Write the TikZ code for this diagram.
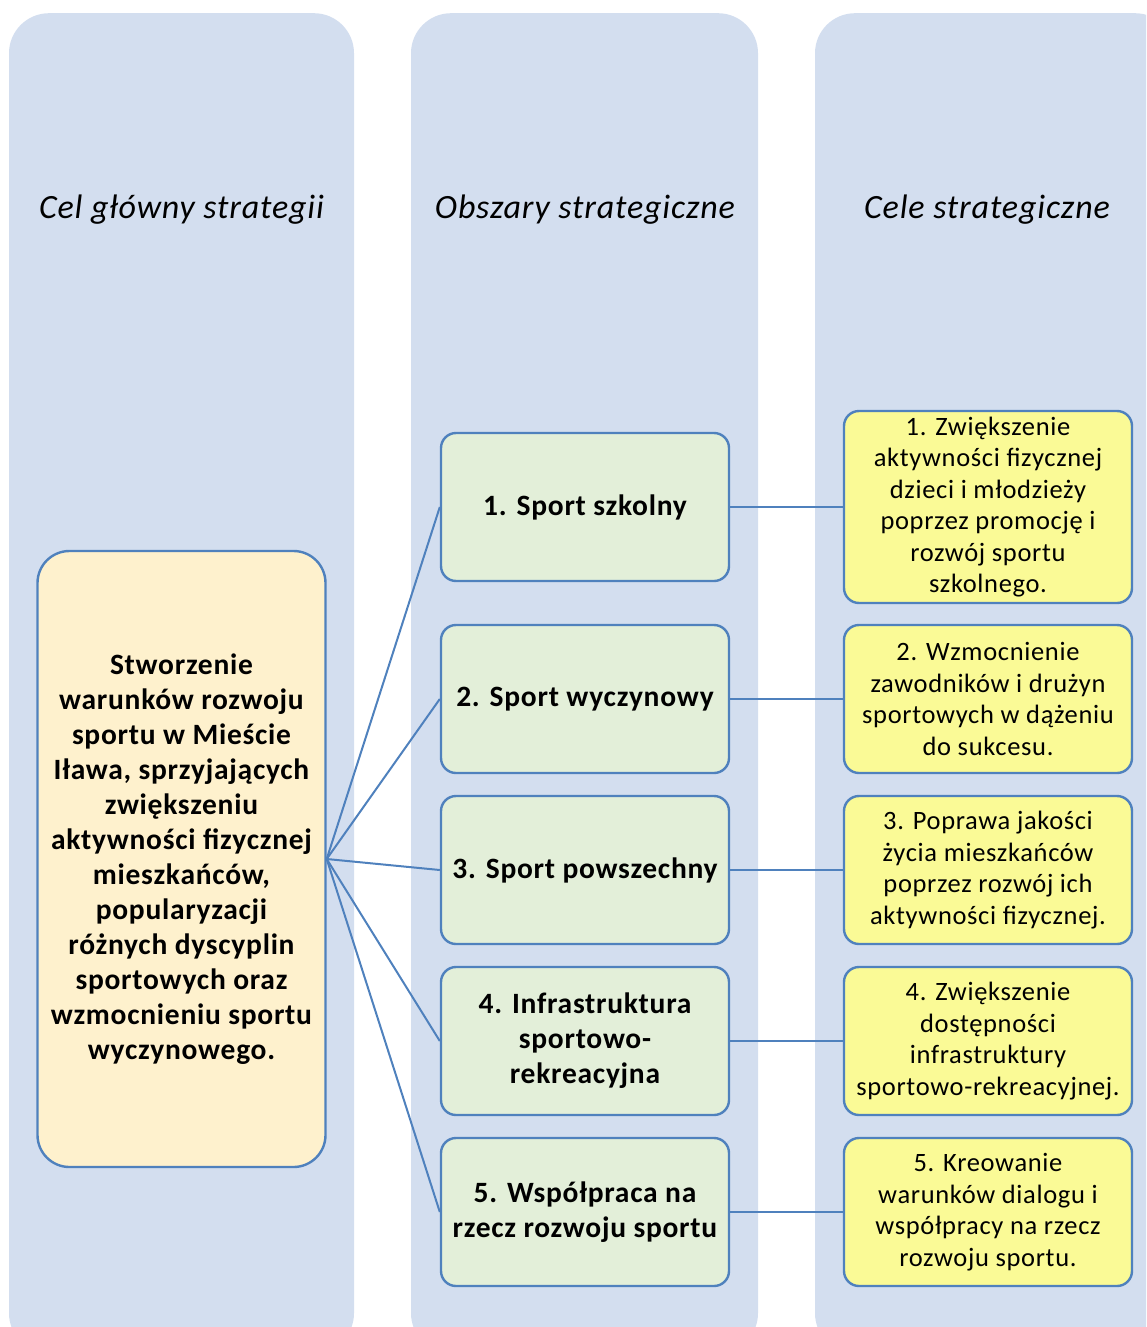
\documentclass[tikz,border=0pt]{standalone}
\usepackage{fontspec}
\setmainfont{Carlito}[LetterSpace=2.5]
\definecolor{colbg}{HTML}{D3DEEF}
\definecolor{bordc}{HTML}{4F81BD}
\definecolor{mainfill}{HTML}{FEF1CD}
\definecolor{greenfill}{HTML}{E3EFD9}
\definecolor{yelfill}{HTML}{FAFA96}
\tikzset{
  column/.style={fill=colbg, draw=none, rounded corners=40pt, minimum width=345pt, minimum height=1340pt, anchor=north, inner sep=0pt},
  header/.style={font=\fontsize{34}{40}\selectfont\itshape, inner sep=0pt},
  box/.style={draw=bordc, line width=2.4pt, rounded corners=15pt, minimum width=288pt, inner sep=0pt, align=center},
  mainbox/.style={box, fill=mainfill, rounded corners=32pt, minimum height=616pt, font=\fontsize{29.5}{35}\selectfont\bfseries},
  areabox/.style={box, fill=greenfill, minimum height=148pt, font=\fontsize{29.5}{35}\selectfont\bfseries},
  goalbox/.style={box, fill=yelfill, minimum height=148pt, font=\fontsize{26.5}{31.5}\selectfont},
  link/.style={draw=bordc, line width=2pt}
}
\begin{document}
\begin{tikzpicture}[x=1pt,y=-1pt]
\useasboundingbox (0,0) rectangle (1146,1327);
\begin{scope}
\clip (0,0) rectangle (1146,1327);
\node[column] (c1) at (181.5,13) {};
\node[column, minimum width=347pt] (c2) at (584.5,13) {};
\node[column, minimum width=360pt] (c3) at (995,13) {};
\end{scope}
\node[header] (h1) at (181.5,210) {Cel główny strategii};
\node[header] (h2) at (585,210) {Obszary strategiczne};
\node[header] (h3) at (987,210) {Cele strategiczne};

\node[mainbox] (m) at (181.5,859) {Stworzenie\\warunków rozwoju\\sportu w Mieście\\Iława, sprzyjających\\zwiększeniu\\aktywności fizycznej\\mieszkańców,\\popularyzacji\\różnych dyscyplin\\sportowych oraz\\wzmocnieniu sportu\\wyczynowego.};

\node[areabox] (a1) at (585,507) {1. Sport szkolny};
\node[areabox] (a2) at (585,699) {2. Sport wyczynowy};
\node[areabox] (a3) at (585,870) {3. Sport powszechny};
\node[areabox] (a4) at (585,1041) {4. Infrastruktura\\sportowo-\\rekreacyjna};
\node[areabox] (a5) at (585,1212) {5. Współpraca na\\rzecz rozwoju sportu};

\node[goalbox, minimum height=192pt] (g1) at (988,507) {1. Zwiększenie\\aktywności fizycznej\\dzieci i młodzieży\\poprzez promocję i\\rozwój sportu\\szkolnego.};
\node[goalbox] (g2) at (988,699) {2. Wzmocnienie\\zawodników i drużyn\\sportowych w dążeniu\\do sukcesu.};
\node[goalbox] (g3) at (988,870) {3. Poprawa jakości\\życia mieszkańców\\poprzez rozwój ich\\aktywności fizycznej.};
\node[goalbox] (g4) at (988,1041) {4. Zwiększenie\\dostępności\\infrastruktury\\sportowo-rekreacyjnej.};
\node[goalbox] (g5) at (988,1212) {5. Kreowanie\\warunków dialogu i\\współpracy na rzecz\\rozwoju sportu.};

\foreach \i in {1,...,5} {
  \draw[link] (m.east) -- (a\i.west);
  \draw[link] (a\i.east) -- (g\i.west);
}
\end{tikzpicture}
\end{document}
